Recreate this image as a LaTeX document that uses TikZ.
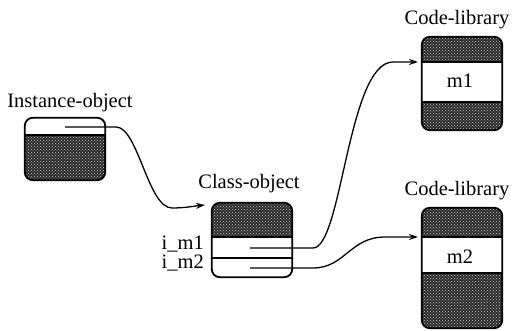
\documentclass[tikz,border=0pt]{standalone}
\usepackage{fontspec}
\setmainfont{Liberation Serif}
\usetikzlibrary{arrows.meta,patterns}
\begin{document}
\begin{tikzpicture}[x=1pt,y=-1pt,
  lbl/.style={font=\fontsize{20.5}{22}\selectfont, inner sep=0pt, anchor=base},
  objbox/.style={draw=none, inner sep=0pt, minimum width=80pt},
  border/.style={line width=1.8pt, rounded corners=8pt},
  darkfill/.style={fill=black!82},
  dotfill/.style={pattern=crosshatch dots, pattern color=white!75!black},
  conn/.style={line width=1.3pt},
  arr/.style={conn, -{Stealth[length=9pt,width=6pt]}}]
\useasboundingbox (0,0) rectangle (517,331);

% ---------- Instance-object ----------
\node[objbox, minimum height=62pt] (inst) at (65,149) {};
\node[lbl] (instlbl) at (70,108) {Instance-object};
\begin{scope}
  \clip[rounded corners=8pt] (inst.north west) rectangle (inst.south east);
  \fill[darkfill] (25,135) rectangle (inst.south east);
  \fill[dotfill] (25,135) rectangle (inst.south east);
\end{scope}
\draw[border] (inst.north west) rectangle (inst.south east);
\draw[line width=1.2pt] (25,135) -- (105,135);

% ---------- Class-object ----------
\node[objbox, minimum height=74pt] (cls) at (252,240) {};
\node[lbl] (clslbl) at (249,189) {Class-object};
\begin{scope}
  \clip[rounded corners=8pt] (cls.north west) rectangle (cls.south east);
  \fill[darkfill] (cls.north west) rectangle (292,237);
  \fill[dotfill] (cls.north west) rectangle (292,237);
\end{scope}
\draw[border] (cls.north west) rectangle (cls.south east);
\draw[line width=1.2pt] (212,237) -- (292,237);
\draw[line width=1.2pt] (212,258) -- (292,258);
\node[lbl, anchor=base east] (im1) at (204,250) {i\_m1};
\node[lbl, anchor=base east] (im2) at (204,269) {i\_m2};

% ---------- Code-library 1 ----------
\node[objbox, minimum height=93pt] (cl1) at (462,83.5) {};
\node[lbl] (cl1lbl) at (457,25) {Code-library};
\begin{scope}
  \clip[rounded corners=8pt] (cl1.north west) rectangle (cl1.south east);
  \fill[darkfill] (cl1.north west) rectangle (cl1.south east);
  \fill[dotfill] (cl1.north west) rectangle (cl1.south east);
  \fill[white] (420,62) rectangle (505,102);
\end{scope}
\draw[border] (cl1.north west) rectangle (cl1.south east);
\draw[line width=1.2pt] (422,62) -- (502,62) (422,102) -- (502,102);
\node[lbl] (m1) at (460,88) {m1};

% ---------- Code-library 2 ----------
\node[objbox, minimum height=120pt] (cl2) at (462,268) {};
\node[lbl] (cl2lbl) at (457,196) {Code-library};
\begin{scope}
  \clip[rounded corners=8pt] (cl2.north west) rectangle (cl2.south east);
  \fill[darkfill] (cl2.north west) rectangle (cl2.south east);
  \fill[dotfill] (cl2.north west) rectangle (cl2.south east);
  \fill[white] (420,237) rectangle (505,273);
\end{scope}
\draw[border] (cl2.north west) rectangle (cl2.south east);
\draw[line width=1.2pt] (422,237) -- (502,237) (422,273) -- (502,273);
\node[lbl] (m2) at (460,264) {m2};

% ---------- connectors ----------
\coordinate (instp) at (65,127);
\coordinate (clsin) at (205,205);
\coordinate (p1) at (250,248);
\coordinate (p2) at (250,268);
\coordinate (cl1in) at (418,62);
\coordinate (cl2in) at (418,237);

\draw[arr] (instp) -- (116,127)
  .. controls (138,127) and (148,208) .. (172,208)
  .. controls (185,208) and (195,206) .. (clsin);
\draw[arr] (p1) -- (313,248)
  .. controls (342,248) and (348,62) .. (393,62) -- (cl1in);
\draw[arr] (p2) -- (313,268)
  .. controls (345,268) and (350,237) .. (385,237) -- (cl2in);
\end{tikzpicture}
\end{document}
